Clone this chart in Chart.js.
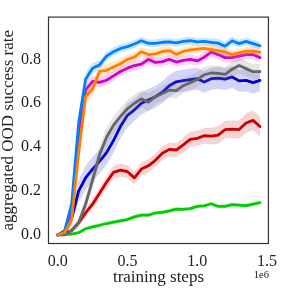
<!DOCTYPE html>
<html>
<head>
<meta charset="utf-8">
<script src="https://cdn.jsdelivr.net/npm/chart.js@4.4.1/dist/chart.umd.min.js"></script>
<style>
html,body{margin:0;padding:0;background:#fff;}
#wrap{width:285px;height:289px;position:relative;}
</style>
</head>
<body>
<div id="wrap"><canvas id="c" width="285" height="289"></canvas></div>
<script>
// training steps
const steps = [0,50000,100000,150000,200000,250000,300000,350000,400000,450000,500000,550000,600000,650000,700000,750000,800000,850000,900000,950000,1000000,1050000,1100000,1150000,1200000,1250000,1300000,1350000,1400000,1450000];

// mean success rate per series
const skyMean = [0.0,0.02,0.14,0.51,0.71,0.76,0.775,0.815,0.835,0.85,0.858,0.87,0.885,0.873,0.873,0.878,0.88,0.875,0.882,0.885,0.88,0.882,0.878,0.874,0.86,0.885,0.872,0.882,0.872,0.862];
const orangeMean = [0.0,0.01,0.07,0.37,0.63,0.665,0.745,0.75,0.765,0.78,0.80,0.81,0.835,0.822,0.825,0.836,0.84,0.823,0.836,0.843,0.847,0.85,0.845,0.84,0.834,0.822,0.83,0.838,0.838,0.833];
const magentaMean = [0.0,0.01,0.10,0.45,0.66,0.70,0.695,0.705,0.725,0.745,0.76,0.772,0.778,0.80,0.786,0.79,0.80,0.788,0.795,0.80,0.793,0.81,0.833,0.822,0.808,0.808,0.815,0.822,0.822,0.808];
const navyMean = [0.0,0.005,0.075,0.20,0.26,0.30,0.335,0.375,0.43,0.495,0.545,0.57,0.60,0.615,0.63,0.65,0.68,0.698,0.703,0.708,0.712,0.697,0.712,0.715,0.71,0.72,0.702,0.704,0.694,0.704];
const grayMean = [0.0,0.0,0.02,0.055,0.14,0.25,0.365,0.445,0.50,0.54,0.575,0.60,0.62,0.605,0.63,0.645,0.66,0.658,0.68,0.694,0.708,0.73,0.738,0.736,0.732,0.755,0.772,0.758,0.744,0.744];
const redMean = [0.0,0.005,0.02,0.055,0.10,0.14,0.19,0.24,0.285,0.295,0.288,0.26,0.30,0.315,0.34,0.372,0.39,0.387,0.41,0.435,0.44,0.452,0.45,0.455,0.48,0.482,0.48,0.51,0.522,0.494];
const greenMean = [0.0,0.001,0.004,0.01,0.028,0.037,0.044,0.052,0.058,0.064,0.07,0.082,0.09,0.09,0.10,0.103,0.11,0.118,0.116,0.12,0.13,0.132,0.142,0.13,0.13,0.138,0.136,0.133,0.14,0.147];

// half-width of the shaded band per series
const skyErr = [0,0.005,0.03,0.04,0.03,0.025,0.02,0.02,0.02,0.02,0.018,0.018,0.018,0.018,0.018,0.018,0.018,0.018,0.018,0.018,0.018,0.018,0.018,0.02,0.02,0.02,0.018,0.018,0.018,0.018];
const orangeErr = [0,0.005,0.03,0.05,0.035,0.03,0.03,0.028,0.025,0.025,0.022,0.022,0.022,0.022,0.022,0.022,0.02,0.02,0.02,0.02,0.02,0.02,0.02,0.02,0.02,0.02,0.02,0.02,0.02,0.02];
const magentaErr = [0,0.005,0.03,0.04,0.025,0.025,0.022,0.022,0.022,0.022,0.022,0.022,0.022,0.022,0.022,0.022,0.022,0.022,0.022,0.022,0.022,0.022,0.022,0.022,0.022,0.022,0.022,0.022,0.022,0.022];
const navyErr = [0,0.005,0.03,0.05,0.055,0.055,0.055,0.055,0.055,0.055,0.055,0.05,0.05,0.05,0.05,0.05,0.05,0.05,0.05,0.05,0.05,0.05,0.05,0.05,0.05,0.05,0.05,0.05,0.05,0.05];
const grayErr = [0,0.002,0.01,0.02,0.03,0.04,0.045,0.045,0.04,0.04,0.04,0.04,0.04,0.04,0.035,0.035,0.035,0.035,0.035,0.035,0.035,0.035,0.035,0.035,0.035,0.035,0.035,0.035,0.035,0.035];
const redErr = [0,0.003,0.01,0.015,0.02,0.025,0.025,0.03,0.03,0.03,0.03,0.03,0.03,0.03,0.03,0.032,0.032,0.032,0.035,0.035,0.035,0.035,0.038,0.04,0.04,0.04,0.042,0.045,0.045,0.045];
const greenErr = [0,0.002,0.004,0.006,0.008,0.01,0.01,0.01,0.01,0.01,0.01,0.01,0.01,0.01,0.01,0.01,0.01,0.01,0.01,0.01,0.01,0.01,0.01,0.01,0.01,0.01,0.01,0.01,0.01,0.01];

const xTicks = [0, 500000, 1000000, 1500000];
const yTicks = [0.0, 0.2, 0.4, 0.6, 0.8];

// drawing order: first = on top
const series = [
  {mean: orangeMean, err: orangeErr, line: 'rgb(255,128,0)', band: 'rgba(255,128,0,0.2)'},
  {mean: skyMean, err: skyErr, line: 'rgb(0,128,255)', band: 'rgba(0,128,255,0.2)'},
  {mean: magentaMean, err: magentaErr, line: 'rgb(204,0,204)', band: 'rgba(204,0,204,0.18)'},
  {mean: grayMean, err: grayErr, line: 'rgb(102,102,102)', band: 'rgba(128,128,128,0.2)'},
  {mean: navyMean, err: navyErr, line: 'rgb(0,0,204)', band: 'rgba(0,0,204,0.17)'},
  {mean: redMean, err: redErr, line: 'rgb(204,0,0)', band: 'rgba(204,0,0,0.17)'},
  {mean: greenMean, err: greenErr, line: 'rgb(0,204,0)', band: 'rgba(0,204,0,0.17)'}
];

const datasets = [];
series.forEach(s => {
  const pts = a => steps.map((x, i) => ({x: x, y: a[i]}));
  datasets.push({data: pts(s.mean), borderColor: s.line, borderWidth: 2.8, pointRadius: 0, fill: false, tension: 0, borderJoinStyle: 'round', borderCapStyle: 'round'});
  const lowIdx = datasets.length;
  datasets.push({data: pts(s.mean.map((m, i) => m - s.err[i])), borderWidth: 0, borderColor: 'rgba(0,0,0,0)', pointRadius: 0, fill: false});
  datasets.push({data: pts(s.mean.map((m, i) => m + s.err[i])), borderWidth: 0, borderColor: 'rgba(0,0,0,0)', pointRadius: 0, fill: lowIdx, backgroundColor: s.band});
});

const SERIF = "'Liberation Serif', serif";

const framePlugin = {
  id: 'frame',
  afterDraw(chart) {
    const {ctx, chartArea: a} = chart;
    ctx.save();
    ctx.strokeStyle = '#333';
    ctx.lineWidth = 1.2;
    ctx.strokeRect(a.left + 0.5, a.top + 0.5, a.right - a.left - 1, a.bottom - a.top - 1);
    ctx.fillStyle = '#222';
    ctx.font = "10.5px " + SERIF;
    ctx.textAlign = 'right';
    ctx.textBaseline = 'middle';
    ctx.fillText('1e6', a.right, 275);
    ctx.restore();
  }
};

new Chart(document.getElementById('c'), {
  type: 'line',
  data: {datasets},
  options: {
    responsive: false,
    animation: false,
    devicePixelRatio: 1,
    layout: {padding: {left: 0, right: 2, top: 1, bottom: 0}},
    plugins: {legend: {display: false}, tooltip: {enabled: false}},
    scales: {
      x: {
        type: 'linear', min: -69400, max: 1514000,
        grid: {display: false, drawTicks: false},
        border: {display: false},
        afterBuildTicks: s => { s.ticks = xTicks.map(v => ({value: v})); },
        afterFit: s => { s.height = 45; },
        ticks: {padding: 8, color: '#222', font: {family: SERIF, size: 16}, callback: v => (v / 1e6).toFixed(1)},
        title: {display: true, text: 'training steps', color: '#222', font: {family: SERIF, size: 17, lineHeight: 1}, padding: {top: 0, bottom: 3}}
      },
      y: {
        type: 'linear', min: -0.0414, max: 0.995,
        grid: {display: false, drawTicks: false},
        border: {display: false},
        afterBuildTicks: s => { s.ticks = yTicks.map(v => ({value: v})); },
        afterFit: s => { s.width = 48; },
        ticks: {padding: 7, color: '#222', font: {family: SERIF, size: 16}, callback: v => v.toFixed(1)},
        title: {display: true, text: 'aggregated OOD success rate', color: '#222', font: {family: SERIF, size: 17, lineHeight: 1}, padding: {top: 0, bottom: 0}}
      }
    }
  },
  plugins: [framePlugin]
});
</script>
</body>
</html>
